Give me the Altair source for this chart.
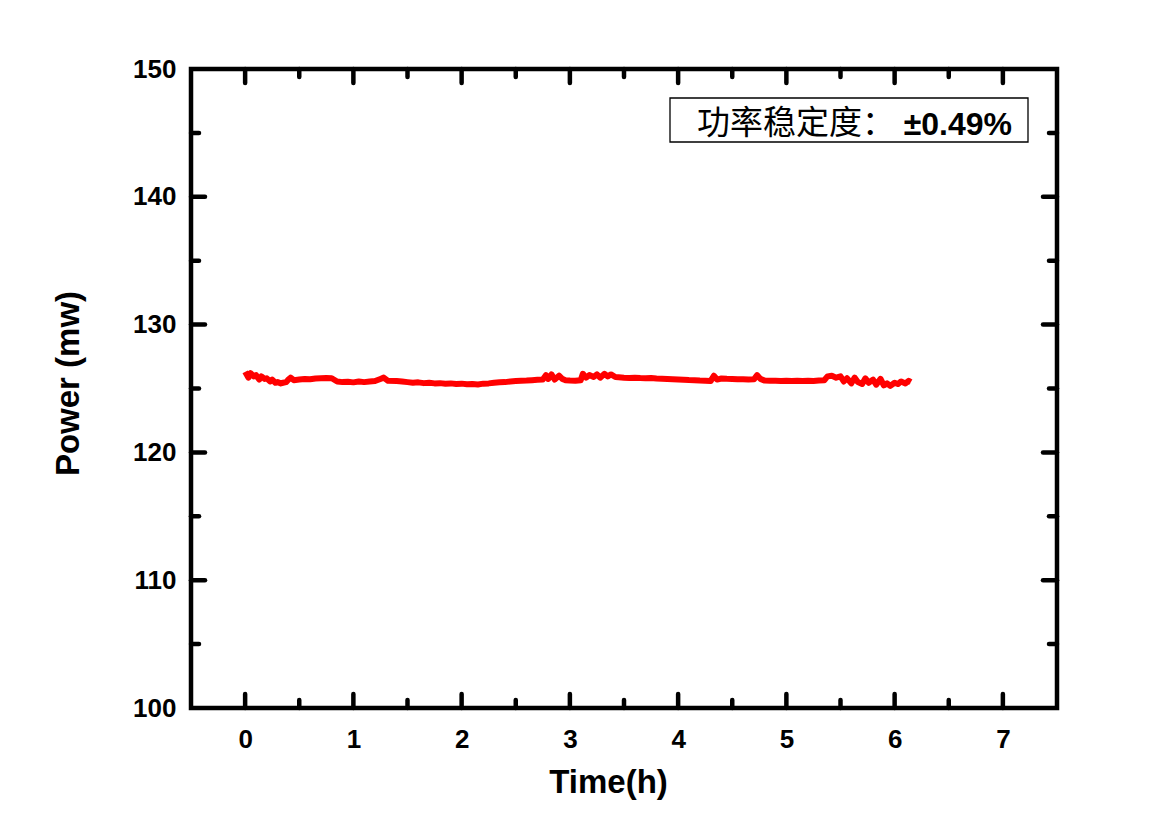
import altair as alt
import pandas as pd

# ---- data ----
time_h = [0.00, 0.03, 0.05, 0.08, 0.10, 0.13, 0.15, 0.18, 0.20, 0.23, 0.25, 0.28, 0.30, 0.33, 0.35,
          0.38, 0.40, 0.42, 0.45, 0.50, 0.55, 0.60, 0.65, 0.70, 0.75, 0.80, 0.85, 0.90, 0.95, 1.00,
          1.05, 1.10, 1.15, 1.20, 1.25, 1.28, 1.32, 1.40, 1.45, 1.50, 1.55, 1.60, 1.65, 1.70, 1.75,
          1.80, 1.85, 1.90, 1.95, 2.00, 2.05, 2.10, 2.15, 2.20, 2.25, 2.30, 2.35, 2.40, 2.45, 2.50,
          2.55, 2.60, 2.65, 2.70, 2.75, 2.78, 2.80, 2.83, 2.86, 2.90, 2.93, 2.96, 3.00, 3.05, 3.10,
          3.12, 3.15, 3.18, 3.22, 3.25, 3.28, 3.32, 3.35, 3.38, 3.42, 3.45, 3.50, 3.55, 3.60, 3.65,
          3.70, 3.75, 3.80, 3.85, 3.90, 3.95, 4.00, 4.05, 4.10, 4.15, 4.20, 4.25, 4.30, 4.33, 4.36,
          4.40, 4.45, 4.50, 4.55, 4.60, 4.65, 4.70, 4.73, 4.76, 4.80, 4.85, 4.90, 4.95, 5.00, 5.05,
          5.10, 5.15, 5.20, 5.25, 5.30, 5.35, 5.38, 5.42, 5.46, 5.50, 5.53, 5.56, 5.60, 5.63, 5.66,
          5.70, 5.73, 5.76, 5.80, 5.83, 5.87, 5.90, 5.93, 5.96, 6.00, 6.03, 6.06, 6.10, 6.13, 6.15]
power_mw = [126.30, 125.85, 126.20, 125.95, 126.05, 125.70, 125.95, 125.75, 125.80, 125.55, 125.70, 125.45, 125.50, 125.40, 125.45,
            125.50, 125.70, 125.85, 125.65, 125.70, 125.75, 125.72, 125.78, 125.80, 125.82, 125.80, 125.55, 125.50, 125.52, 125.48,
            125.55, 125.50, 125.55, 125.58, 125.75, 125.85, 125.60, 125.58, 125.55, 125.50, 125.45, 125.48, 125.42, 125.45, 125.40,
            125.42, 125.38, 125.40, 125.36, 125.38, 125.33, 125.36, 125.32, 125.38, 125.40, 125.45, 125.48, 125.50, 125.55, 125.58,
            125.60, 125.62, 125.65, 125.68, 125.70, 126.05, 125.75, 126.10, 125.70, 126.00, 125.75, 125.65, 125.62, 125.60, 125.65,
            126.15, 125.85, 126.05, 125.90, 126.10, 125.85, 126.15, 125.95, 126.10, 125.90, 125.88, 125.85, 125.83, 125.85, 125.82,
            125.80, 125.82, 125.78, 125.76, 125.74, 125.72, 125.70, 125.68, 125.66, 125.65, 125.62, 125.60, 125.58, 126.00, 125.70,
            125.78, 125.76, 125.75, 125.72, 125.72, 125.70, 125.72, 126.05, 125.75, 125.62, 125.60, 125.60, 125.58, 125.60, 125.58,
            125.60, 125.58, 125.60, 125.58, 125.62, 125.65, 125.95, 126.00, 125.85, 125.95, 125.55, 125.80, 125.40, 125.85, 125.50,
            125.35, 125.80, 125.45, 125.70, 125.30, 125.75, 125.25, 125.40, 125.20, 125.45, 125.35, 125.55, 125.40, 125.60, 125.50]

x_major = [0, 1, 2, 3, 4, 5, 6, 7]
x_minor = [0.5, 1.5, 2.5, 3.5, 4.5, 5.5, 6.5]
y_labels = [100, 110, 120, 130, 140, 150]
y_major_inner = [110, 120, 130, 140]
y_minor = [105, 115, 125, 135, 145]

annotation_cn = "功率稳定度："
annotation_val = "±0.49%"

W, H = 866, 639
FONT = "Liberation Sans"

df = pd.DataFrame({"t": time_h, "p": power_mw})

xscale = alt.Scale(domain=[-0.5, 7.5], nice=False, zero=False)
yscale = alt.Scale(domain=[100, 150], nice=False, zero=False)

xaxis = alt.Axis(values=x_major, title="Time(h)", grid=False, ticks=False, domain=False,
                 labelFont=FONT, labelFontSize=26, labelFontWeight="bold", labelColor="black",
                 labelPadding=18, titleFont=FONT, titleFontSize=33, titleFontWeight="bold",
                 titleColor="black", titleBaseline="alphabetic", titleX=417, titleY=84,
                 titleAlign="center")
yaxis = alt.Axis(values=y_labels, title="Power (mw)", grid=False, ticks=False, domain=False,
                 labelFont=FONT, labelFontSize=26, labelFontWeight="bold", labelColor="black",
                 labelPadding=15, titleFont=FONT, titleFontSize=33, titleFontWeight="bold",
                 titleColor="black", titleBaseline="alphabetic", titleAngle=-90,
                 titleX=-113, titleY=314, titleAlign="center")

line = alt.Chart(df).mark_line(color="#ff0000", strokeWidth=6, strokeJoin="round").encode(
    x=alt.X("t:Q", scale=xscale, axis=xaxis),
    y=alt.Y("p:Q", scale=yscale, axis=yaxis),
)

TW = 4.5

def xticks(vals, length):
    d = pd.DataFrame({"t": vals})
    bottom = alt.Chart(d).mark_rule(color="black", strokeWidth=TW, strokeCap="round").encode(
        x=alt.X("t:Q", scale=xscale, axis=xaxis), y=alt.value(H), y2=alt.value(H - length))
    top = alt.Chart(d).mark_rule(color="black", strokeWidth=TW, strokeCap="round").encode(
        x=alt.X("t:Q", scale=xscale, axis=xaxis), y=alt.value(0), y2=alt.value(length))
    return [bottom, top]

def yticks(vals, length):
    d = pd.DataFrame({"p": vals})
    left = alt.Chart(d).mark_rule(color="black", strokeWidth=TW, strokeCap="round").encode(
        y=alt.Y("p:Q", scale=yscale, axis=yaxis), x=alt.value(0), x2=alt.value(length))
    right = alt.Chart(d).mark_rule(color="black", strokeWidth=TW, strokeCap="round").encode(
        y=alt.Y("p:Q", scale=yscale, axis=yaxis), x=alt.value(W), x2=alt.value(W - length))
    return [left, right]

one = alt.Data(values=[{}])
box = alt.Chart(one).mark_rect(fill="white", stroke="black", strokeWidth=1.3).encode(
    x=alt.value(479), x2=alt.value(837), y=alt.value(29), y2=alt.value(73))
txt_cn = alt.Chart(one).mark_text(font="Noto Sans CJK SC", fontSize=33, align="left",
                                  baseline="alphabetic", color="black").encode(
    x=alt.value(506), y=alt.value(65), text=alt.value(annotation_cn))
txt_val = alt.Chart(one).mark_text(font=FONT, fontSize=32, fontWeight="bold", align="right",
                                   baseline="alphabetic", color="black").encode(
    x=alt.value(821), y=alt.value(66), text=alt.value(annotation_val))

chart = alt.layer(
    line,
    *xticks(x_major, 14), *xticks(x_minor, 8),
    *yticks(y_major_inner, 14), *yticks(y_minor, 8),
    box, txt_cn, txt_val,
).properties(
    width=W, height=H,
    background="white",
    autosize=alt.AutoSizeParams(type="none"),
    padding={"left": 183, "top": 61, "right": 100, "bottom": 100},
).configure_view(stroke="black", strokeWidth=4.5)

chart.save("out.html", embed_options={"renderer": "svg", "actions": False})
